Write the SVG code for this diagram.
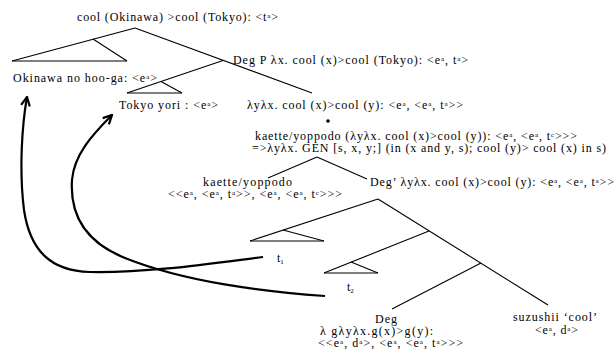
<svg xmlns="http://www.w3.org/2000/svg" width="616" height="355" viewBox="0 0 616 355">
<defs>
<style>
.t{font-family:"Liberation Serif","Times New Roman",serif;font-size:12px;fill:#000}
.sup{font-size:7px;baseline-shift:3.5px}
.sub{font-size:7px;baseline-shift:-2px}
.ln{stroke:#000;stroke-width:1.1;fill:none}
.arr{stroke:#000;stroke-width:2.2;fill:none;marker-end:url(#ah)}
</style>
<marker id="ah" viewBox="0 0 10 10" refX="9" refY="5" markerWidth="5" markerHeight="5" orient="auto" markerUnits="strokeWidth">
<path d="M1,1 L9,5 L1,9" fill="none" stroke="#000" stroke-width="2"/>
</marker>
</defs>
<rect width="616" height="355" fill="#fff"/>
<g id="connectors">
<line class="ln" x1="135" y1="28" x2="12" y2="61"/>
<line class="ln" x1="93" y1="39" x2="127" y2="61"/>
<line class="ln" x1="12" y1="61" x2="127" y2="61"/>
<line class="ln" x1="135" y1="28" x2="312" y2="93"/>
<line class="ln" x1="223" y1="60.5" x2="127" y2="93"/>
<line class="ln" x1="161" y1="81.5" x2="182" y2="93"/>
<line class="ln" x1="127" y1="93" x2="182" y2="93"/>
<line class="ln" x1="317" y1="157" x2="268" y2="178"/>
<line class="ln" x1="317" y1="157" x2="367" y2="179"/>
<line class="ln" x1="378" y1="199" x2="250" y2="241"/>
<line class="ln" x1="283" y1="230" x2="324" y2="241"/>
<line class="ln" x1="250" y1="241" x2="324" y2="241"/>
<line class="ln" x1="378" y1="199" x2="548" y2="305"/>
<line class="ln" x1="429" y1="231" x2="324" y2="273"/>
<line class="ln" x1="351" y1="262" x2="378" y2="273"/>
<line class="ln" x1="324" y1="273" x2="378" y2="273"/>
<line class="ln" x1="481" y1="263" x2="392" y2="309"/>
<path class="arr" d="M263,257 C215,263 150,273 90,272 C50,271 30,250 24,210 C19,170 22,125 27,97"/>
<path class="arr" d="M325,296 C260,291 185,282 125,258 C80,240 70,210 72,180 C74,155 92,135 112,115"/>
</g>
<g id="root"><text class="t" x="77" y="21" textLength="201">cool (Okinawa) &gt;cool (Tokyo): &lt;t<tspan class="sup">a</tspan>&gt;</text></g>
<g id="okinawa"><text class="t" x="13" y="82" textLength="144">Okinawa no hoo-ga: &lt;e<tspan class="sup">a</tspan>&gt;</text></g>
<g id="degp"><text class="t" x="233" y="64" textLength="235">Deg P λx. cool (x)&gt;cool (Tokyo): &lt;e<tspan class="sup">a</tspan>, t<tspan class="sup">a</tspan>&gt;</text></g>
<g id="tokyo"><text class="t" x="119" y="109" textLength="99">Tokyo yori : &lt;e<tspan class="sup">a</tspan>&gt;</text></g>
<g id="lambda"><text class="t" x="247" y="109" textLength="216">λyλx. cool (x)&gt;cool (y): &lt;e<tspan class="sup">a</tspan>, &lt;e<tspan class="sup">a</tspan>, t<tspan class="sup">a</tspan>&gt;&gt;</text>
<circle cx="328" cy="121" r="1.8" fill="#000"/></g>
<g id="gen">
<text class="t" x="255" y="140" textLength="322">kaette/yoppodo (λyλx. cool (x)&gt;cool (y)): &lt;e<tspan class="sup">a</tspan>, &lt;e<tspan class="sup">a</tspan>, t<tspan class="sup">c</tspan>&gt;&gt;&gt;</text>
<text class="t" x="252" y="152" textLength="354">=&gt;λyλx. GEN [s, x, y;] (in (x and y, s); cool (y)&gt; cool (x) in s)</text>
</g>
<g id="kaette">
<text class="t" x="203" y="186" textLength="89">kaette/yoppodo</text>
<text class="t" x="168" y="198" textLength="174">&lt;&lt;e<tspan class="sup">a</tspan>, &lt;e<tspan class="sup">a</tspan>, t<tspan class="sup">a</tspan>&gt;&gt;, &lt;e<tspan class="sup">a</tspan>, &lt;e<tspan class="sup">a</tspan>, t<tspan class="sup">c</tspan>&gt;&gt;&gt;</text>
</g>
<g id="degbar"><text class="t" x="370" y="186" textLength="244">Deg’ λyλx. cool (x)&gt;cool (y): &lt;e<tspan class="sup">a</tspan>, &lt;e<tspan class="sup">a</tspan>, t<tspan class="sup">a</tspan>&gt;&gt;</text></g>
<g id="t1"><text class="t" x="277" y="262">t<tspan class="sub">1</tspan></text></g>
<g id="t2"><text class="t" x="347" y="291">t<tspan class="sub">2</tspan></text></g>
<g id="deg">
<text class="t" x="375" y="323" textLength="22">Deg</text>
<text class="t" x="320" y="335" textLength="113">λ gλyλx.g(x)&gt;g(y):</text>
<text class="t" x="318" y="347" textLength="145">&lt;&lt;e<tspan class="sup">a</tspan>, d<tspan class="sup">a</tspan>&gt;, &lt;e<tspan class="sup">a</tspan>, &lt;e<tspan class="sup">a</tspan>, t<tspan class="sup">a</tspan>&gt;&gt;&gt;</text>
</g>
<g id="suzushii">
<text class="t" x="513" y="321" textLength="84">suzushii ‘cool’</text>
<text class="t" x="535" y="334" textLength="43">&lt;e<tspan class="sup">a</tspan>, d<tspan class="sup">a</tspan>&gt;</text>
</g>
</svg>
